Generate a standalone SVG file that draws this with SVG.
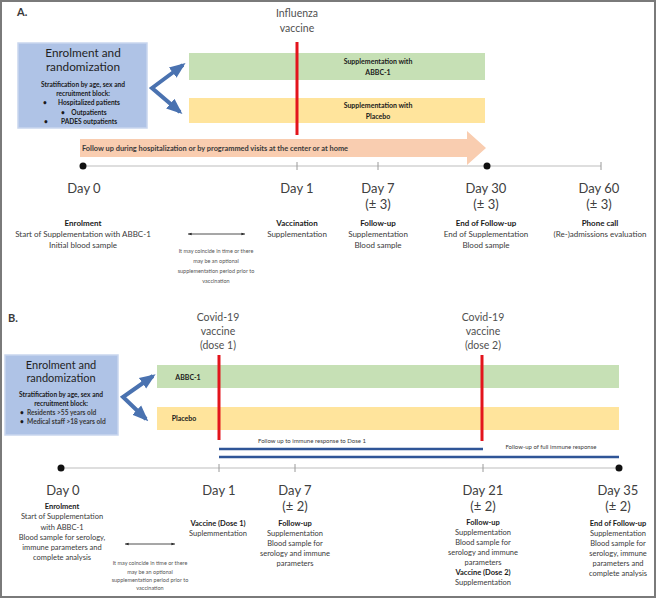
<svg xmlns="http://www.w3.org/2000/svg" width="657" height="600" viewBox="0 0 657 600">
<defs>
<style>
text{font-family:Lato,"Open Sans","Liberation Sans",sans-serif;fill:#3a3a3a;}
.t{text-anchor:middle;}
.b{font-weight:bold;fill:#1a1a1a;}
.day{font-size:13px;text-anchor:middle;fill:#404040;}
.lab{font-size:8px;text-anchor:middle;}
.labB{font-size:7.5px;text-anchor:middle;}
.note{font-size:5.5px;text-anchor:middle;fill:#555;}
.vac{font-size:10.5px;text-anchor:middle;fill:#505050;}
.boxT{font-size:11.8px;text-anchor:middle;fill:#1f1f1f;}
.boxTB{font-size:11px;text-anchor:middle;fill:#1f1f1f;}
.boxS{font-size:6.6px;font-weight:bold;text-anchor:middle;fill:#1a1a1a;}
.bar{font-size:7px;font-weight:bold;text-anchor:middle;fill:#1a1a1a;}
.box{fill:#afc3e6;stroke:#c9d6ee;stroke-width:1.5;}
.green{fill:#c6e0b5;}
.yellow{fill:#ffe49c;}
.red{stroke:#e3141c;stroke-width:3;}
.tl{stroke:#bdbdbd;stroke-width:1.2;fill:none;}
.tick{stroke:#9a9a9a;stroke-width:1;}
.chev{stroke:#4a72b0;stroke-width:4;fill:none;}
.dbl{stroke:#222;stroke-width:0.8;}
.blue{stroke:#2f5597;stroke-width:2.5;}
</style>
<marker id="ah" viewBox="0 0 10 10" refX="8" refY="5" markerWidth="4" markerHeight="4" orient="auto-start-reverse"><path d="M0,1 L10,5 L0,9 z" fill="#4a72b0"/></marker>
<marker id="sa" viewBox="0 0 10 10" refX="9" refY="5" markerWidth="5" markerHeight="5" orient="auto-start-reverse"><path d="M0,2 L10,5 L0,8 z" fill="#222"/></marker>
</defs>
<rect x="1" y="1" width="654" height="596" fill="#fff" stroke="#7a7a7a" stroke-width="2"/>

<!-- Part A -->
<text x="17" y="16" font-size="11" font-weight="bold" fill="#404040">A.</text>
<text class="vac" x="297" y="17">Influenza</text>
<text class="vac" x="297" y="32">vaccine</text>

<g id="A-enrolment">
<rect class="box" x="18" y="43" width="129" height="85"/>
<text class="boxT" x="83" y="57">Enrolment and</text>
<text class="boxT" x="83" y="71">randomization</text>
<text class="boxS" x="83" y="87">Stratification by age, sex and</text>
<text class="boxS" x="83" y="96">recruitment block:</text>
<text class="boxS" x="45" y="105">•</text><text class="boxS" x="89" y="105">Hospitalized patients</text>
<text class="boxS" x="63" y="115">•</text><text class="boxS" x="89" y="115">Outpatients</text>
<text class="boxS" x="46" y="124">•</text><text class="boxS" x="89" y="124">PADES outpatients</text>
</g>

<g id="A-abbc1">
<rect class="green" x="189" y="53" width="296" height="27"/>
<text class="bar" x="378" y="64">Supplementation with</text>
<text class="bar" x="378" y="75">ABBC-1</text>
</g>
<g id="A-placebo">
<rect class="yellow" x="189" y="98" width="296" height="25"/>
<text class="bar" x="378" y="108">Supplementation with</text>
<text class="bar" x="378" y="119">Placebo</text>
</g>

<g id="A-followup">
<polygon points="80,139 467,139 467,131 486,148 467,165 467,157 80,157" fill="#f9cdb0"/>
<text x="82" y="150.5" font-size="7.4" font-weight="bold" fill="#1a1a1a">Follow up during hospitalization or by programmed visits at the center or at home</text>
</g>

<g id="connectors-A">
<path class="chev" d="M183,65 L152,88 L180,112" marker-start="url(#ah)" marker-end="url(#ah)"/>
<line class="red" x1="297" y1="42" x2="297" y2="135"/>
<line class="tl" x1="83" y1="166" x2="601" y2="166"/>
<line class="tick" x1="297" y1="162" x2="297" y2="170"/>
<line class="tick" x1="378" y1="162" x2="378" y2="170"/>
<line class="tick" x1="601" y1="162" x2="601" y2="170"/>
<circle cx="83" cy="166" r="3.5" fill="#111"/>
<circle cx="487" cy="166" r="3.5" fill="#111"/>
<line class="dbl" x1="188" y1="234" x2="245" y2="234" marker-start="url(#sa)" marker-end="url(#sa)"/>
</g>

<g id="A-day0">
<text class="day" x="84" y="193">Day 0</text>
<text class="lab b" x="83" y="226">Enrolment</text>
<text class="lab" x="83" y="237">Start of Supplementation with ABBC-1</text>
<text class="lab" x="83" y="248">Initial blood sample</text>
</g>
<g id="A-note">
<text class="note" x="216" y="253">It may coincide in time or there</text>
<text class="note" x="216" y="263">may be an optional</text>
<text class="note" x="216" y="273">supplementation period prior to</text>
<text class="note" x="216" y="283">vaccination</text>
</g>
<g id="A-day1">
<text class="day" x="297" y="193">Day 1</text>
<text class="lab b" x="297" y="226">Vaccination</text>
<text class="lab" x="297" y="237">Supplementation</text>
</g>
<g id="A-day7">
<text class="day" x="378" y="193">Day 7</text>
<text class="day" x="378" y="209">(± 3)</text>
<text class="lab b" x="378" y="226">Follow-up</text>
<text class="lab" x="378" y="237">Supplementation</text>
<text class="lab" x="378" y="248">Blood sample</text>
</g>
<g id="A-day30">
<text class="day" x="486" y="193">Day 30</text>
<text class="day" x="486" y="209">(± 3)</text>
<text class="lab b" x="486" y="226">End of Follow-up</text>
<text class="lab" x="486" y="237">End of Supplementation</text>
<text class="lab" x="486" y="248">Blood sample</text>
</g>
<g id="A-day60">
<text class="day" x="599" y="193">Day 60</text>
<text class="day" x="599" y="209">(± 3)</text>
<text class="lab b" x="600" y="226">Phone call</text>
<text class="lab" x="600" y="237">(Re-)admissions evaluation</text>
</g>

<!-- Part B -->
<text x="8" y="322" font-size="11" font-weight="bold" fill="#404040">B.</text>
<text class="vac" x="218" y="321">Covid-19</text>
<text class="vac" x="218" y="335">vaccine</text>
<text class="vac" x="218" y="349">(dose 1)</text>
<text class="vac" x="483" y="321">Covid-19</text>
<text class="vac" x="483" y="335">vaccine</text>
<text class="vac" x="483" y="349">(dose 2)</text>

<g id="B-enrolment">
<rect class="box" x="5" y="355" width="113" height="80"/>
<text class="boxTB" x="61" y="369">Enrolment and</text>
<text class="boxTB" x="61" y="382">randomization</text>
<text class="boxS" x="61" y="397">Stratification by age, sex and</text>
<text class="boxS" x="61" y="406">recruitment block:</text>
<text class="boxS" x="22" y="415">•</text><text x="27" y="415" font-size="6.6" font-weight="bold" fill="#1a1a1a">Residents &gt;55 years old</text>
<text class="boxS" x="22" y="424">•</text><text x="27" y="424" font-size="6.6" font-weight="bold" fill="#1a1a1a">Medical staff &gt;18 years old</text>
</g>

<g id="B-abbc1">
<rect class="green" x="157" y="365" width="462" height="23"/>
<text class="bar" x="188" y="380">ABBC-1</text>
</g>
<g id="B-placebo">
<rect class="yellow" x="157" y="407" width="462" height="23"/>
<text class="bar" x="184" y="421">Placebo</text>
</g>

<g id="connectors-B">
<path class="chev" d="M153,376 L123,397 L146,419" marker-start="url(#ah)" marker-end="url(#ah)"/>
<line class="red" x1="219" y1="355" x2="219" y2="440"/>
<line class="red" x1="482" y1="355" x2="482" y2="441"/>
<line class="blue" x1="219" y1="449" x2="483" y2="449"/>
<line class="blue" x1="219" y1="457" x2="619" y2="457"/>
<line class="tl" x1="61" y1="468" x2="619" y2="468"/>
<line class="tick" x1="219" y1="464" x2="219" y2="472"/>
<line class="tick" x1="295" y1="464" x2="295" y2="472"/>
<line class="tick" x1="483" y1="464" x2="483" y2="472"/>
<circle cx="61" cy="468" r="3.5" fill="#111"/>
<circle cx="619" cy="468" r="3.5" fill="#111"/>
<line class="dbl" x1="125" y1="544" x2="175" y2="544" marker-start="url(#sa)" marker-end="url(#sa)"/>
</g>
<text x="312" y="443" font-size="6" text-anchor="middle" fill="#333">Follow up to immune response to Dose 1</text>
<text x="551" y="449" font-size="6" text-anchor="middle" fill="#b02020">Follow-up of full immune response</text>

<g id="B-day0">
<text class="day" x="63" y="495">Day 0</text>
<text class="labB b" x="62" y="509">Enrolment</text>
<text class="labB" x="62" y="519">Start of Supplementation</text>
<text class="labB" x="62" y="529.5">with ABBC-1</text>
<text class="labB" x="62" y="540">Blood sample for serology,</text>
<text class="labB" x="62" y="550">immune parameters and</text>
<text class="labB" x="62" y="560">complete analysis</text>
</g>
<g id="B-note">
<text class="note" x="150" y="565">It may coincide in time or there</text>
<text class="note" x="150" y="574">may be an optional</text>
<text class="note" x="150" y="582">supplementation period prior to</text>
<text class="note" x="150" y="590">vaccination</text>
</g>
<g id="B-day1">
<text class="day" x="219" y="495">Day 1</text>
<text class="labB b" x="218" y="526">Vaccine (Dose 1)</text>
<text class="labB" x="218" y="536">Suplemmentation</text>
</g>
<g id="B-day7">
<text class="day" x="295" y="495">Day 7</text>
<text class="day" x="295" y="511">(± 2)</text>
<text class="labB b" x="295" y="526">Follow-up</text>
<text class="labB" x="295" y="535.5">Supplementation</text>
<text class="labB" x="295" y="545.5">Blood sample for</text>
<text class="labB" x="295" y="555.5">serology and immune</text>
<text class="labB" x="295" y="565.5">parameters</text>
</g>
<g id="B-day21">
<text class="day" x="483" y="495">Day 21</text>
<text class="day" x="483" y="511">(± 2)</text>
<text class="labB b" x="483" y="525">Follow-up</text>
<text class="labB" x="483" y="535">Supplementation</text>
<text class="labB" x="483" y="545">Blood sample for</text>
<text class="labB" x="483" y="555">serology and immune</text>
<text class="labB" x="483" y="565">parameters</text>
<text class="labB b" x="483" y="575">Vaccine (Dose 2)</text>
<text class="labB" x="483" y="584.5">Supplementation</text>
</g>
<g id="B-day35">
<text class="day" x="618" y="495">Day 35</text>
<text class="day" x="618" y="511">(± 2)</text>
<text class="labB b" x="618" y="526">End of Follow-up</text>
<text class="labB" x="618" y="535.5">Supplementation</text>
<text class="labB" x="618" y="545.5">Blood sample for</text>
<text class="labB" x="618" y="555.5">serology, immune</text>
<text class="labB" x="618" y="565.5">parameters and</text>
<text class="labB" x="618" y="576">complete analysis</text>
</g>
</svg>
